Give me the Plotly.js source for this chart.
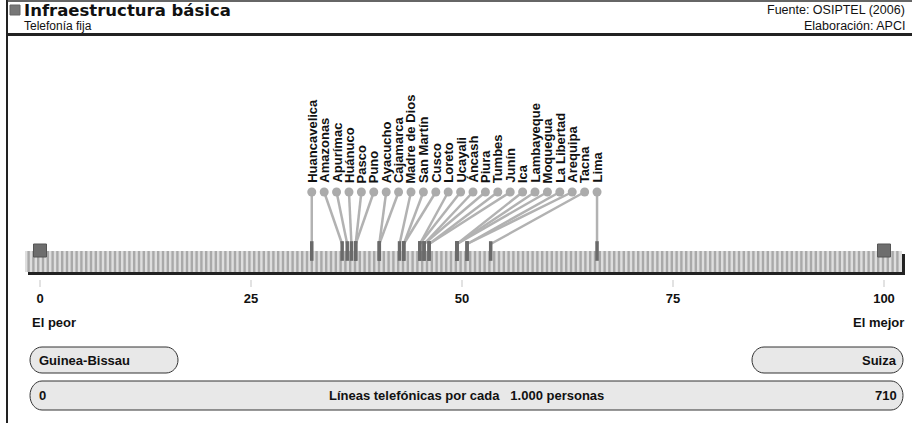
<!DOCTYPE html>
<html>
<head>
<meta charset="utf-8">
<script src="https://cdn.plot.ly/plotly-3.0.1.min.js"></script>
<style>html,body{margin:0;padding:0;background:#fff;}#chart{width:912px;height:423px;}</style>
</head>
<body>
<div id="chart"></div>
<script>
// ---- data ----
const regions = ['Huancavelica','Amazonas','Apurímac','Huánuco','Pasco','Puno','Ayacucho','Cajamarca','Madre de Dios','San Martín','Cusco','Loreto','Ucayali','Áncash','Piura','Tumbes','Junín','Ica','Lambayeque','Moquegua','La Libertad','Arequipa','Tacna','Lima'];
const scores = [32.2, 35.8, 36.4, 36.9, 37.4, 37.4, 40.2, 40.2, 42.6, 43.1, 43.1, 45.0, 45.0, 45.5, 45.5, 46.1, 46.1, 49.4, 49.4, 49.4, 50.6, 50.6, 53.4, 66.0];
const tickVals = [0, 25, 50, 75, 100];
const tickText = ['0', '25', '50', '75', '100'];
const endScores = [0, 100];
const endLabels = ['El peor', 'El mejor'];
const endCountries = ['Guinea-Bissau', 'Suiza'];
const rawMin = '0';
const rawMax = '710';
const rawUnit = 'Líneas telefónicas por cada   1.000 personas';
const titleText = 'Infraestructura básica';
const subtitleText = 'Telefonía fija';
const sourceText = 'Fuente: OSIPTEL (2006)';
const creditText = 'Elaboración: APCI';

// ---- layout helpers ----
const W = 912, H = 423;
const unit = 8.44, x0px = 40;
const r0 = -x0px / unit, r1 = r0 + W / unit;
const px = p => p / W;               // pixel -> paper x
const FN = 'Liberation Sans, Arial, sans-serif';
const FT = 'DejaVu Sans, Liberation Sans, sans-serif';

const n = regions.length;
const labelX = regions.map((_, i) => scores[0] + i * (scores[n - 1] - scores[0]) / (n - 1));

const yCircle = 192, yMarkTop = 244, yMark = 251;

// connector lines
const lx = [], ly = [];
for (let i = 0; i < n; i++) { lx.push(labelX[i], scores[i], null); ly.push(yCircle, yMarkTop, null); }

const traces = [
  {x: lx, y: ly, mode: 'lines', line: {color: '#b2b2b2', width: 2.5}, hoverinfo: 'skip', showlegend: false},
  {x: labelX, y: labelX.map(() => yCircle), mode: 'markers', marker: {size: 9, color: '#ababab'}, hoverinfo: 'skip', showlegend: false},
  {x: scores, y: scores.map(() => yMark), mode: 'markers', marker: {symbol: 'line-ns', size: 14, line: {width: 3.5, color: '#6a6a6a'}}, text: regions, hoverinfo: 'text', showlegend: false},
  {x: endScores, y: endScores.map(() => 250.5), mode: 'markers', marker: {symbol: 'square', size: 13, color: '#6e6e6e', line: {color: '#555', width: 1}}, hoverinfo: 'skip', showlegend: false}
];

const shapes = [];
// frame lines
shapes.push({type: 'line', xref: 'paper', yref: 'y', x0: px(7), x1: px(7), y0: 0, y1: H, line: {color: '#222', width: 2}});
shapes.push({type: 'line', xref: 'paper', yref: 'y', x0: px(7), x1: 1, y0: 1, y1: 1, line: {color: '#333', width: 1.5}});
shapes.push({type: 'rect', xref: 'paper', yref: 'y', x0: px(7), x1: 1, y0: 33, y1: 36, fillcolor: '#222', line: {width: 0}});
// title icon
shapes.push({type: 'rect', xref: 'paper', yref: 'y', x0: px(10), x1: px(20), y0: 5, y1: 15, fillcolor: '#777', line: {color: '#666', width: 1}});
// bar shadow
shapes.push({type: 'rect', xref: 'paper', yref: 'y', x0: px(28), x1: px(905), y0: 254, y1: 275, fillcolor: '#222', line: {width: 0}, layer: 'below'});
// bar base
shapes.push({type: 'rect', xref: 'paper', yref: 'y', x0: px(25), x1: px(902), y0: 251, y1: 272, fillcolor: '#dedede', line: {width: 0}, layer: 'below'});
// stripes
const period = 4.8;
for (let s = 25 + 2.4; s + 2.4 <= 902; s += period) {
  shapes.push({type: 'rect', xref: 'paper', yref: 'y', x0: px(s), x1: px(s + 2.4), y0: 251, y1: 272, fillcolor: '#a9a9a9', line: {width: 0}, layer: 'below'});
}
// pill helper
function pill(xa, xb, ya, yb) {
  const r = (yb - ya) / 2, rx = Math.min(r, 12), k = 0.5523, ym = (ya + yb) / 2;
  const X = p => px(p);
  const d = `M ${X(xa + rx)} ${ya} L ${X(xb - rx)} ${ya} ` +
    `C ${X(xb - rx + k * rx)} ${ya} ${X(xb)} ${ym - k * r} ${X(xb)} ${ym} ` +
    `C ${X(xb)} ${ym + k * r} ${X(xb - rx + k * rx)} ${yb} ${X(xb - rx)} ${yb} ` +
    `L ${X(xa + rx)} ${yb} ` +
    `C ${X(xa + rx - k * rx)} ${yb} ${X(xa)} ${ym + k * r} ${X(xa)} ${ym} ` +
    `C ${X(xa)} ${ym - k * r} ${X(xa + rx - k * rx)} ${ya} ${X(xa + rx)} ${ya} Z`;
  return {type: 'path', xref: 'paper', yref: 'y', path: d, fillcolor: '#e8e8e8', line: {color: '#333', width: 1}};
}
shapes.push(pill(30, 178, 347, 373));
shapes.push(pill(752, 903, 347, 373));
shapes.push(pill(30, 903, 381, 410));

const annotations = [];
function A(xp, yp, text, o) {
  annotations.push(Object.assign({xref: 'paper', yref: 'y', x: px(xp), y: yp, text: text, showarrow: false,
    xanchor: 'left', yanchor: 'middle', font: {family: FN, size: 12, color: '#111'}}, o || {}));
}
A(22, 10, '<b>' + titleText + '</b>', {font: {family: FT, size: 16.5, color: '#111'}});
A(22, 26, subtitleText, {font: {family: FN, size: 12, color: '#111'}});
A(907, 10, sourceText, {xanchor: 'right', font: {family: FN, size: 12.5, color: '#111'}});
A(907, 26, creditText, {xanchor: 'right', font: {family: FN, size: 12.5, color: '#111'}});
// region labels
for (let i = 0; i < n; i++) {
  annotations.push({xref: 'x', yref: 'y', x: labelX[i], y: 185, text: '<b>' + regions[i] + '</b>', textangle: -90,
    showarrow: false, xanchor: 'center', yanchor: 'bottom', font: {family: FN, size: 13, color: '#111'}});
}
// end labels
A(30, 322, '<b>' + endLabels[0] + '</b>', {font: {family: FN, size: 13, color: '#111'}});
A(906, 322, '<b>' + endLabels[1] + '</b>', {xanchor: 'right', font: {family: FN, size: 13, color: '#111'}});
A(37, 360, '<b>' + endCountries[0] + '</b>', {font: {family: FN, size: 13, color: '#111'}});
A(899, 360, '<b>' + endCountries[1] + '</b>', {xanchor: 'right', font: {family: FN, size: 13, color: '#111'}});
A(37, 395.5, '<b>' + rawMin + '</b>', {font: {family: FN, size: 13, color: '#111'}});
A(466, 395.5, '<b>' + rawUnit + '</b>', {xanchor: 'center', font: {family: FN, size: 13, color: '#111'}});
A(899, 395.5, '<b>' + rawMax + '</b>', {xanchor: 'right', font: {family: FN, size: 13, color: '#111'}});

const layout = {
  width: W, height: H, margin: {l: 0, r: 0, t: 0, b: 0},
  paper_bgcolor: '#fff', plot_bgcolor: '#fff',
  xaxis: {range: [r0, r1], anchor: 'free', position: 1 - 279 / H, showgrid: false, zeroline: false, showline: false,
    ticks: 'outside', ticklen: 7, tickwidth: 2, tickcolor: '#e2e2e2', tickvals: tickVals, ticktext: tickText,
    tickfont: {family: FN, size: 13, color: '#111', weight: 'bold'}, fixedrange: true},
  yaxis: {range: [H, 0], visible: false, fixedrange: true},
  shapes: shapes, annotations: annotations, showlegend: false
};
Plotly.newPlot('chart', traces, layout, {displayModeBar: false, staticPlot: true});
</script>
</body>
</html>
